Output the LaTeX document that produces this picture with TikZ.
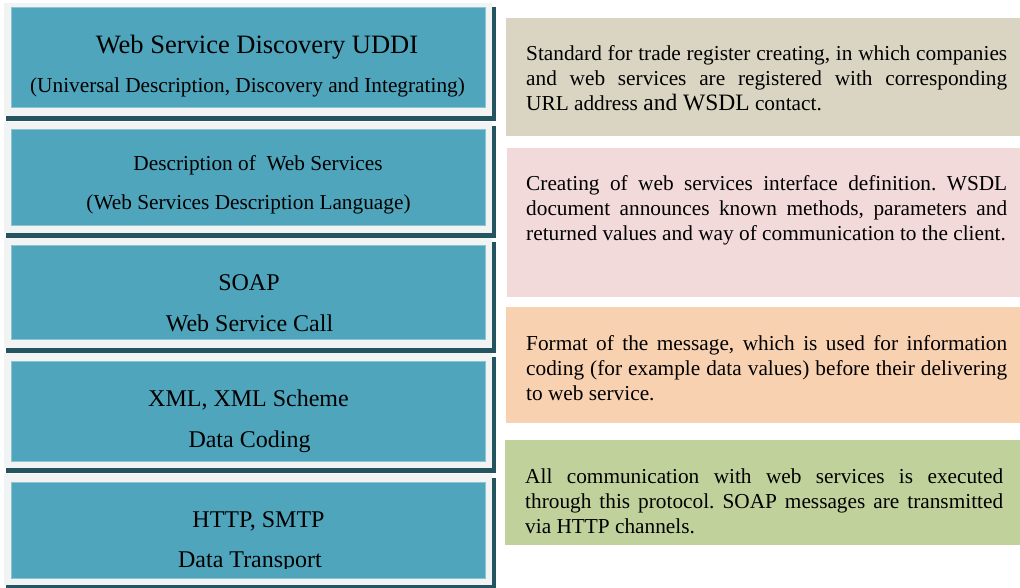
\documentclass[tikz,border=0pt]{standalone}
\usepackage{fontspec}
\setmainfont{Liberation Serif}
\frenchspacing
\definecolor{teal}{HTML}{4FA5BC}
\definecolor{tealedge}{HTML}{8DC4D3}
\definecolor{framecol}{HTML}{F2F3F3}
\definecolor{shadowcol}{HTML}{23545F}
\definecolor{beige}{HTML}{D9D5C2}
\definecolor{pinkish}{HTML}{F2D9DA}
\definecolor{peach}{HTML}{F8D1B1}
\definecolor{sage}{HTML}{C0D19B}
\tikzset{
  layerline/.style={anchor=base, inner sep=0, text=black},
  bigtxt/.style={font=\fontsize{26.5}{30}\selectfont},
  midtxt/.style={font=\fontsize{24}{28}\selectfont},
  smalltxt/.style={font=\fontsize{21.3}{25}\selectfont},
  desctext/.style={anchor=north west, inner sep=0, text width=481pt, align=justify,
    font=\fontsize{21.3}{25}\selectfont, text=black},
}
% one protocol layer: dark shadow, light frame and teal face
\newcommand\layerbox[5]{%
  \fill[shadowcol] (6,#2+4) rectangle (496,#3+5);
  \fill[framecol] (4,#2) rectangle (492,#3);
  \draw[fill=teal, draw=tealedge, line width=0.8pt] (11,#4) rectangle (485,#5);
  \coordinate (#1) at (248,#4);
}
\begin{document}
\begin{tikzpicture}[x=1pt, y=-1pt]
\useasboundingbox[fill=white] (0,0) rectangle (1020,587);

% protocol stack on the left
\layerbox{L1}{3}{116}{7}{107}
\layerbox{L2}{122}{233}{129}{225}
\layerbox{L3}{238}{348}{245}{339}
\layerbox{L4}{353}{468}{361}{461}
\layerbox{L5}{474}{585}{482}{578}

\node[layerline, bigtxt]   (uddi)  at (257,53)   {Web Service Discovery UDDI};
\node[layerline, smalltxt] (uddib) at (247.5,92) {(Universal Description, Discovery and Integrating)};
\node[layerline, smalltxt] (wsdl)  at (258,170)  {Description of\ \ Web Services};
\node[layerline, smalltxt] (wsdlb) at (248.5,209) {(Web Services Description Language)};
\node[layerline, midtxt]   (soap)  at (249,290)  {SOAP};
\node[layerline, midtxt]   (soapb) at (249.5,331) {Web Service Call};
\node[layerline, midtxt]   (xml)   at (248.5,406) {XML, XML Scheme};
\node[layerline, midtxt]   (xmlb)  at (249.5,447) {Data Coding};
\node[layerline, midtxt]   (http)  at (258.5,527) {HTTP, SMTP};
\begin{scope}
  \clip (0,0) rectangle (1020,568);
  \node[layerline, midtxt] (httpb) at (250,567) {Data Transport};
\end{scope}

% descriptions on the right
\fill[beige]   (506,18)  rectangle (1020,136);
\fill[pinkish] (507,148) rectangle (1020,297);
\fill[peach]   (506,307) rectangle (1020,423);
\fill[sage]    (505,440) rectangle (1020,545);

\node[desctext] (dA) at (526,60-17.5) {\strut Standard for trade register creating, in which companies\linebreak
 and web services are registered with corresponding\linebreak
 URL address {\fontsize{23.5}{25}\selectfont and WSDL} contact.};
\node[desctext] (dB) at (526,190-17.5) {\strut Creating of web services interface definition. WSDL\linebreak
 document announces known methods, parameters and\linebreak
 returned values and way of communication to the client.};
\node[desctext] (dC) at (526,350-17.5) {\strut Format of the message, which is used for information\linebreak
 coding (for example data values) before their delivering\linebreak
 to web service.};
\node[desctext, text width=478pt] (dD) at (525,483-17.5) {\strut All communication with web services is executed\linebreak
 through this protocol. SOAP messages are transmitted\linebreak
 via HTTP channels.};
\end{tikzpicture}
\end{document}
